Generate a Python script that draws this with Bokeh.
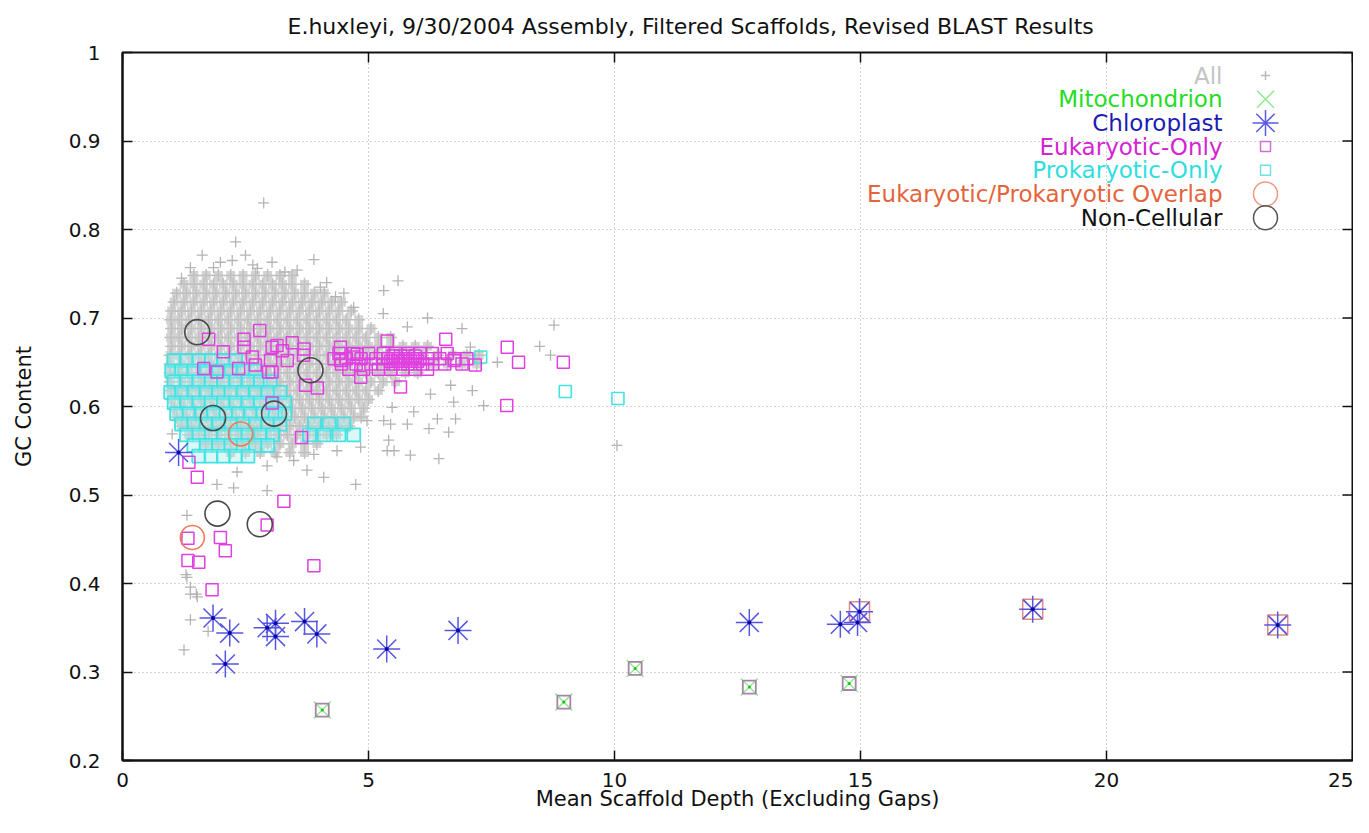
from bokeh.plotting import figure
from bokeh.models import Range1d, FixedTicker, CustomJSTickFormatter, ColumnDataSource
from bokeh.core.properties import value
from bokeh.embed import file_html
from bokeh.resources import INLINE

# ---------------- text ----------------
TITLE = "E.huxleyi, 9/30/2004 Assembly, Filtered Scaffolds, Revised BLAST Results"
X_LABEL = "Mean Scaffold Depth (Excluding Gaps)"
Y_LABEL = "GC Content"
X_TICKS = [0, 5, 10, 15, 20, 25]
Y_TICKS = [0.2, 0.3, 0.4, 0.5, 0.6, 0.7, 0.8, 0.9, 1.0]
SERIES = ["All", "Mitochondrion", "Chloroplast", "Eukaryotic-Only",
          "Prokaryotic-Only", "Eukaryotic/Prokaryotic Overlap", "Non-Cellular"]

# ---------------- data ----------------
# "All" scaffolds: dense core (GC level -> mean depths read along the row)
ALL_CORE_ROWS = [
    (0.748, [1.45, 1.7, 1.95, 2.2, 2.45, 2.7, 2.95, 3.2, 3.45]),
    (0.738, [1.25, 1.45, 1.65, 1.85, 2.05, 2.25, 2.45, 2.65, 2.85, 3.05, 3.25, 3.45, 3.7]),
    (0.728, [1.1, 1.3, 1.5, 1.7, 1.9, 2.1, 2.3, 2.5, 2.7, 2.9, 3.1, 3.3, 3.5, 3.7, 3.9, 4.1]),
    (0.718, [1.05, 1.25, 1.45, 1.65, 1.85, 2.05, 2.25, 2.45, 2.65, 2.85, 3.05, 3.25, 3.45, 3.65, 3.85, 4.05, 4.25, 4.45]),
    (0.708, [1.0, 1.2, 1.4, 1.6, 1.8, 2.0, 2.2, 2.4, 2.6, 2.8, 3.0, 3.2, 3.4, 3.6, 3.8, 4.0, 4.2, 4.4, 4.65]),
    (0.698, [0.98, 1.15, 1.35, 1.55, 1.75, 1.95, 2.15, 2.35, 2.55, 2.75, 2.95, 3.15, 3.35, 3.55, 3.75, 3.95, 4.15, 4.35, 4.55, 4.8]),
    (0.688, [1.0, 1.2, 1.4, 1.6, 1.8, 2.0, 2.2, 2.4, 2.6, 2.8, 3.0, 3.2, 3.4, 3.6, 3.8, 4.0, 4.2, 4.4, 4.6, 4.8, 5.05]),
    (0.678, [0.98, 1.15, 1.35, 1.55, 1.75, 1.95, 2.15, 2.35, 2.55, 2.75, 2.95, 3.15, 3.35, 3.55, 3.75, 3.95, 4.15, 4.35, 4.55, 4.75, 4.95, 5.2, 5.45]),
    (0.668, [1.0, 1.2, 1.4, 1.6, 1.8, 2.0, 2.2, 2.4, 2.6, 2.8, 3.0, 3.2, 3.4, 3.6, 3.8, 4.0, 4.2, 4.4, 4.6, 4.8, 5.0, 5.2, 5.45, 5.7, 5.95, 6.2]),
    (0.658, [0.97, 1.15, 1.35, 1.55, 1.75, 1.95, 2.15, 2.35, 2.55, 2.75, 2.95, 3.15, 3.35, 3.55, 3.75, 3.95, 4.15, 4.35, 4.55, 4.75, 4.95, 5.15, 5.35, 5.6, 5.85, 6.1, 6.4, 6.7, 7.0, 7.25]),
    (0.648, [0.97, 1.2, 1.4, 1.6, 1.8, 2.0, 2.2, 2.4, 2.6, 2.8, 3.0, 3.2, 3.4, 3.6, 3.8, 4.0, 4.2, 4.4, 4.6, 4.8, 5.0, 5.25, 5.5, 5.75, 6.0, 6.3, 6.6, 6.9, 7.2]),
    (0.638, [0.97, 1.15, 1.35, 1.55, 1.75, 1.95, 2.15, 2.35, 2.55, 2.75, 2.95, 3.15, 3.35, 3.55, 3.75, 3.95, 4.15, 4.35, 4.55, 4.75, 4.95, 5.2, 5.45, 5.75, 6.0]),
    (0.628, [0.97, 1.2, 1.4, 1.6, 1.8, 2.0, 2.2, 2.4, 2.6, 2.8, 3.0, 3.2, 3.4, 3.6, 3.8, 4.0, 4.2, 4.4, 4.6, 4.8, 5.05, 5.3, 5.55]),
    (0.618, [0.98, 1.15, 1.35, 1.55, 1.75, 1.95, 2.15, 2.35, 2.55, 2.75, 2.95, 3.15, 3.35, 3.55, 3.75, 3.95, 4.15, 4.35, 4.55, 4.75, 4.95, 5.2]),
    (0.608, [1.0, 1.2, 1.4, 1.6, 1.8, 2.0, 2.2, 2.4, 2.6, 2.8, 3.0, 3.2, 3.4, 3.6, 3.8, 4.0, 4.2, 4.4, 4.6, 4.8, 5.0]),
    (0.598, [1.05, 1.25, 1.45, 1.65, 1.85, 2.05, 2.25, 2.45, 2.65, 2.85, 3.05, 3.25, 3.45, 3.65, 3.85, 4.05, 4.25, 4.45, 4.65, 4.9]),
    (0.588, [1.1, 1.3, 1.5, 1.7, 1.9, 2.1, 2.3, 2.5, 2.7, 2.9, 3.1, 3.3, 3.5, 3.7, 3.9, 4.1, 4.3, 4.5, 4.7, 4.85]),
    (0.578, [1.2, 1.4, 1.6, 1.8, 2.0, 2.2, 2.4, 2.6, 2.8, 3.0, 3.2, 3.4, 3.6, 3.8, 4.0, 4.2, 4.4, 4.6]),
    (0.568, [1.35, 1.55, 1.75, 1.95, 2.15, 2.35, 2.55, 2.75, 2.95, 3.15, 3.35, 3.55, 3.75, 3.95, 4.15, 4.35]),
    (0.558, [1.7, 1.95, 2.2, 2.45, 2.7, 2.95, 3.2, 3.45, 3.7, 3.95]),
    (0.548, [2.2, 2.5, 2.8, 3.1, 3.4, 3.7]),
]
# "All" scaffolds: scattered outliers
ALL_SPARSE_X = [2.87, 2.30, 1.62, 1.99, 2.23, 2.50, 3.04, 3.89, 3.55, 2.74, 1.38, 5.60, 5.31, 4.33,
                4.02, 4.70, 5.79, 5.30, 8.77, 8.48, 8.70, 7.62, 7.07, 7.11, 6.73, 6.26, 6.67, 7.34,
                5.92, 5.48, 5.45, 6.40, 6.77, 6.23, 6.63, 5.41, 5.52, 5.85, 6.43, 10.05, 3.75, 4.09,
                4.74, 2.94, 2.33, 1.92, 2.26, 2.94, 3.14, 3.48, 3.89, 4.36, 4.84, 5.38, 5.31, 5.79,
                4.97, 1.31, 1.01, 1.31, 1.38, 1.52, 1.29, 1.38, 1.38, 1.25, 1.74, 1.50, 6.20, 6.90,
                1.20, 1.85, 2.65, 3.30, 4.15, 4.50]
ALL_SPARSE_Y = [0.830, 0.786, 0.771, 0.763, 0.765, 0.771, 0.763, 0.766, 0.754, 0.756, 0.757, 0.742, 0.731, 0.724,
                0.735, 0.712, 0.690, 0.705, 0.692, 0.668, 0.658, 0.650, 0.667, 0.618, 0.605, 0.614, 0.624, 0.601,
                0.594, 0.599, 0.580, 0.586, 0.586, 0.575, 0.571, 0.562, 0.550, 0.545, 0.541, 0.556, 0.528, 0.520,
                0.512, 0.533, 0.526, 0.512, 0.508, 0.505, 0.543, 0.539, 0.546, 0.550, 0.554, 0.550, 0.584, 0.580,
                0.584, 0.477, 0.569, 0.407, 0.396, 0.385, 0.410, 0.388, 0.359, 0.325, 0.346, 0.388, 0.700, 0.688,
                0.745, 0.757, 0.760, 0.752, 0.740, 0.728]

MITO_X = [4.06, 8.97, 10.42, 12.74, 14.77]
MITO_Y = [0.257, 0.266, 0.304, 0.283, 0.287]

CHLORO_X = [1.14, 1.84, 2.18, 2.09, 2.94, 3.11, 3.11, 3.70, 3.95, 5.37, 6.82, 12.74, 14.59, 14.94, 14.98, 18.50, 23.48]
CHLORO_Y = [0.548, 0.361, 0.344, 0.309, 0.350, 0.355, 0.340, 0.357, 0.343, 0.326, 0.347, 0.356, 0.354, 0.356, 0.368, 0.371, 0.353]
CHLORO_BOXED = [False, False, False, False, False, False, False, False, False, False, False,
                False, False, False, True, True, True]

EUK_X = [2.79, 2.47, 2.47, 2.05, 1.75, 3.04, 3.25, 3.45, 3.69, 2.64, 3.01, 2.36, 2.70, 3.04, 1.65,
         1.92, 3.72, 3.96, 4.43, 4.70, 4.84, 5.38, 5.65, 6.57, 6.74, 7.17, 7.82, 8.05, 8.96, 7.81,
         3.04, 3.64, 1.52, 1.35, 3.28, 2.94, 1.33, 1.99, 2.09, 1.33, 1.55, 3.89, 1.82, 4.77, 3.35,
         3.68, 4.43, 3.14, 2.97,
         # dense run at depth 4.3-7
         4.40, 4.70, 5.00, 5.30, 5.55, 5.80, 6.05, 6.30, 6.60,
         4.30, 4.55, 4.85, 5.15, 5.40, 5.60, 5.75, 5.90, 6.05, 6.20, 6.45, 6.75, 7.00,
         4.45, 4.75, 5.05, 5.30, 5.50, 5.65, 5.80, 5.95, 6.10, 6.30, 6.55, 6.90,
         4.60, 4.90, 5.20, 5.45, 5.70, 5.95, 6.20,
         5.45, 5.60, 5.70, 5.85, 6.00, 5.50, 5.65, 5.80, 5.95]
EUK_Y = [0.686, 0.676, 0.667, 0.662, 0.676, 0.667, 0.663, 0.672, 0.665, 0.656, 0.652, 0.643, 0.647, 0.639, 0.643,
         0.639, 0.624, 0.621, 0.667, 0.656, 0.633, 0.674, 0.622, 0.676, 0.652, 0.647, 0.667, 0.650, 0.650, 0.601,
         0.604, 0.565, 0.520, 0.537, 0.493, 0.466, 0.451, 0.452, 0.437, 0.426, 0.424, 0.420, 0.393, 0.659, 0.652,
         0.658, 0.652, 0.669, 0.639,
         0.660, 0.660, 0.660, 0.660, 0.660, 0.660, 0.660, 0.660, 0.660,
         0.654, 0.654, 0.654, 0.654, 0.654, 0.654, 0.654, 0.654, 0.654, 0.654, 0.654, 0.654, 0.654,
         0.648, 0.648, 0.648, 0.648, 0.648, 0.648, 0.648, 0.648, 0.648, 0.648, 0.648, 0.648,
         0.642, 0.642, 0.642, 0.642, 0.642, 0.642, 0.642,
         0.651, 0.651, 0.651, 0.651, 0.651, 0.657, 0.657, 0.657, 0.657]

# Prokaryotic-only: dense block (GC level -> depths) plus outliers
PROK_ROWS = [
    (0.652, [1.05, 1.3, 1.55, 1.8, 2.05, 2.3]),
    (0.640, [1.0, 1.2, 1.45, 1.7, 1.95, 2.2, 2.45, 2.7]),
    (0.628, [1.05, 1.3, 1.55, 1.8, 2.05, 2.3, 2.55, 2.8, 3.0]),
    (0.616, [0.98, 1.2, 1.45, 1.7, 1.95, 2.2, 2.45, 2.7, 2.95, 3.2]),
    (0.604, [1.05, 1.3, 1.55, 1.8, 2.05, 2.3, 2.55, 2.8, 3.05, 3.3]),
    (0.592, [1.1, 1.35, 1.6, 1.85, 2.1, 2.35, 2.6, 2.85, 3.1, 3.3]),
    (0.580, [1.2, 1.45, 1.7, 1.95, 2.2, 2.45, 2.7, 2.95, 3.2, 3.9, 4.2, 4.5]),
    (0.568, [1.3, 1.55, 1.8, 2.05, 2.3, 2.55, 2.8, 3.05, 3.8, 4.1, 4.4, 4.7]),
    (0.556, [1.45, 1.7, 1.95, 2.2, 2.45, 2.7, 2.95]),
    (0.544, [1.55, 1.8, 2.05, 2.3, 2.55]),
]
PROK_SPARSE_X = [7.28, 9.00, 10.07]
PROK_SPARSE_Y = [0.656, 0.617, 0.609]

OVERLAP_X = [2.40, 1.42]
OVERLAP_Y = [0.569, 0.452]

NONCELL_X = [1.52, 3.82, 1.84, 3.08, 1.93, 2.79]
NONCELL_Y = [0.684, 0.641, 0.587, 0.592, 0.479, 0.467]

# ---------------- style ----------------
FONT = "DejaVu Sans"
INK = "#111111"
LEGEND_TEXT_COLORS = ["#c4c4c4", "#22dd22", "#1c1cb4", "#d424d4", "#30dede", "#e4643c", "#111111"]
LEGEND_MARKERS = ["cross", "x", "asterisk", "square", "square", "circle", "circle"]
LEGEND_MARKER_COLORS = ["#b8b8b8", "#90e890", "#5a5ae6", "#d070d0", "#70e0e0", "#f09a80", "#555555"]
LEGEND_MARKER_SIZES = [9, 24, 26, 10, 10, 24, 24]

FRAME_W, FRAME_H = 1230, 708          # plot-area size in px
X_MIN, X_MAX, Y_MIN, Y_MAX = 0, 25, 0.2, 1.0
PX_X = (X_MAX - X_MIN) / FRAME_W      # data units per px
PX_Y = (Y_MAX - Y_MIN) / FRAME_H
TICK_LEN = 10


def flatten(rows):
    xs, ys = [], []
    for yv, row in rows:
        for xv in row:
            xs.append(xv)
            ys.append(yv)
    return xs, ys


all_core_x, all_core_y = flatten(ALL_CORE_ROWS)
prok_core_x, prok_core_y = flatten(PROK_ROWS)

p = figure(width=1353, height=817,
           x_range=Range1d(X_MIN, X_MAX), y_range=Range1d(Y_MIN, Y_MAX),
           output_backend="svg", toolbar_location=None,
           min_border_left=122, min_border_right=1,
           min_border_top=52, min_border_bottom=57,
           background_fill_color="white", border_fill_color="white")

p.outline_line_color = INK
p.outline_line_width = 2

xa = p.below[0]
ya = p.left[0]

# title
p.title.text = TITLE
p.title.align = "left"
p.title.offset = 165
p.title.vertical_align = "top"
p.title.text_font = FONT
p.title.text_font_size = "22px"
p.title.text_font_style = "normal"
p.title.text_color = INK
p.title.standoff = 24

# axes
for ax in (xa, ya):
    ax.major_tick_in = TICK_LEN
    ax.major_tick_out = 0
    ax.minor_tick_line_color = None
    ax.axis_line_width = 2
    ax.axis_line_color = INK
    ax.major_tick_line_width = 1.5
    ax.major_tick_line_color = INK
    ax.major_label_text_font = FONT
    ax.major_label_text_font_size = "20px"
    ax.major_label_text_color = INK
    ax.axis_label_text_font = FONT
    ax.axis_label_text_font_size = "21px"
    ax.axis_label_text_font_style = "normal"
    ax.axis_label_text_color = INK

xa.ticker = FixedTicker(ticks=X_TICKS)
xa.axis_label = X_LABEL
xa.major_label_standoff = 12
xa.axis_label_standoff = -3

ya.ticker = FixedTicker(ticks=Y_TICKS)
ya.formatter = CustomJSTickFormatter(code="return tick > 0.999 ? '1' : tick.toFixed(1);")
ya.axis_label = Y_LABEL
ya.major_label_standoff = 22
ya.axis_label_standoff = 30

# grid
p.xgrid.ticker = FixedTicker(ticks=X_TICKS)
p.ygrid.ticker = FixedTicker(ticks=Y_TICKS)
p.grid.grid_line_color = "#a8a8a8"
p.grid.grid_line_dash = "1 3"
p.grid.grid_line_width = 1

# mirrored inward ticks on the top and right edges of the frame
p.segment(x0=X_TICKS, x1=X_TICKS, y0=[Y_MAX] * len(X_TICKS),
          y1=[Y_MAX - TICK_LEN * PX_Y] * len(X_TICKS), line_color=INK, line_width=1.5)
p.segment(x0=[X_MAX] * len(Y_TICKS), x1=[X_MAX - TICK_LEN * PX_X] * len(Y_TICKS),
          y0=Y_TICKS, y1=Y_TICKS, line_color=INK, line_width=1.5)

# ---------------- series ----------------
# All: dense core (overlapping "+" marks read as a solid cloud) and outliers
p.scatter(all_core_x, all_core_y, marker="square", size=9, line_color=None,
          fill_color="#d3d3d3")
p.scatter(all_core_x, all_core_y, marker="cross", size=13, line_color="#c0c0c0", line_width=1.5)
p.scatter(ALL_SPARSE_X, ALL_SPARSE_Y, marker="cross", size=11, line_color="#b4b4b4", line_width=1.3)

# Prokaryotic-only
p.scatter(prok_core_x, prok_core_y, marker="square", size=13, line_color="#44e2e2", line_width=1.8,
          fill_color="#a6eeee", fill_alpha=0.4)
p.scatter(PROK_SPARSE_X, PROK_SPARSE_Y, marker="square", size=12, line_color="#44e2e2",
          line_width=1.6, fill_color=None)

# Eukaryotic-only
p.scatter(EUK_X, EUK_Y, marker="square", size=12, line_color="#e040e0", line_width=1.5,
          fill_color=None)

# Mitochondrion
p.scatter(MITO_X, MITO_Y, marker="x", size=24, line_color="#90ea90", line_width=1.5)
p.scatter(MITO_X, MITO_Y, marker="square", size=13, line_color="#a684a6", line_width=1.8,
          fill_color=None)
p.scatter(MITO_X, MITO_Y, marker="circle", size=3, line_color=None, fill_color="#22bb22")

# Chloroplast (some sit on an additional salmon box)
boxed_x = [xv for xv, b in zip(CHLORO_X, CHLORO_BOXED) if b]
boxed_y = [yv for yv, b in zip(CHLORO_Y, CHLORO_BOXED) if b]
p.scatter(boxed_x, boxed_y, marker="square_x", size=20, line_color="#dc8c84", line_width=1.5,
          fill_color=None)
p.scatter(CHLORO_X, CHLORO_Y, marker="asterisk", size=27, line_color="#5656e6", line_width=1.5)
p.scatter(CHLORO_X, CHLORO_Y, marker="circle", size=4, line_color=None, fill_color="#0a0a9a")

# Overlap / Non-cellular
p.scatter(OVERLAP_X, OVERLAP_Y, marker="circle", size=24, line_color="#ee7a58", line_width=1.6,
          fill_color=None)
p.scatter(NONCELL_X, NONCELL_Y, marker="circle", size=25, line_color="#4a4a4a", line_width=1.6,
          fill_color=None)

# ---------------- key (gnuplot style: right-aligned text, sample on the right) ----------------
KEY_TEXT_X = X_MIN + 1100 * PX_X
KEY_MARK_X = X_MIN + 1143 * PX_X
KEY_TOP_Y = Y_MAX - 23 * PX_Y
KEY_STEP = 23.7 * PX_Y
key_y = [KEY_TOP_Y - i * KEY_STEP for i in range(len(SERIES))]
key_src = ColumnDataSource(dict(
    tx=[KEY_TEXT_X] * len(SERIES), mx=[KEY_MARK_X] * len(SERIES), y=key_y,
    text=SERIES, tcolor=LEGEND_TEXT_COLORS, marker=LEGEND_MARKERS,
    mcolor=LEGEND_MARKER_COLORS, msize=LEGEND_MARKER_SIZES))
p.text(x="tx", y="y", text="text", text_color="tcolor", source=key_src,
       text_align="right", text_baseline="middle",
       text_font=value(FONT), text_font_size=value("23px"))
p.scatter(x="mx", y="y", marker="marker", size="msize", line_color="mcolor",
          fill_color=None, line_width=1.5, source=key_src)

open("out.html", "w").write(file_html(p, INLINE))
